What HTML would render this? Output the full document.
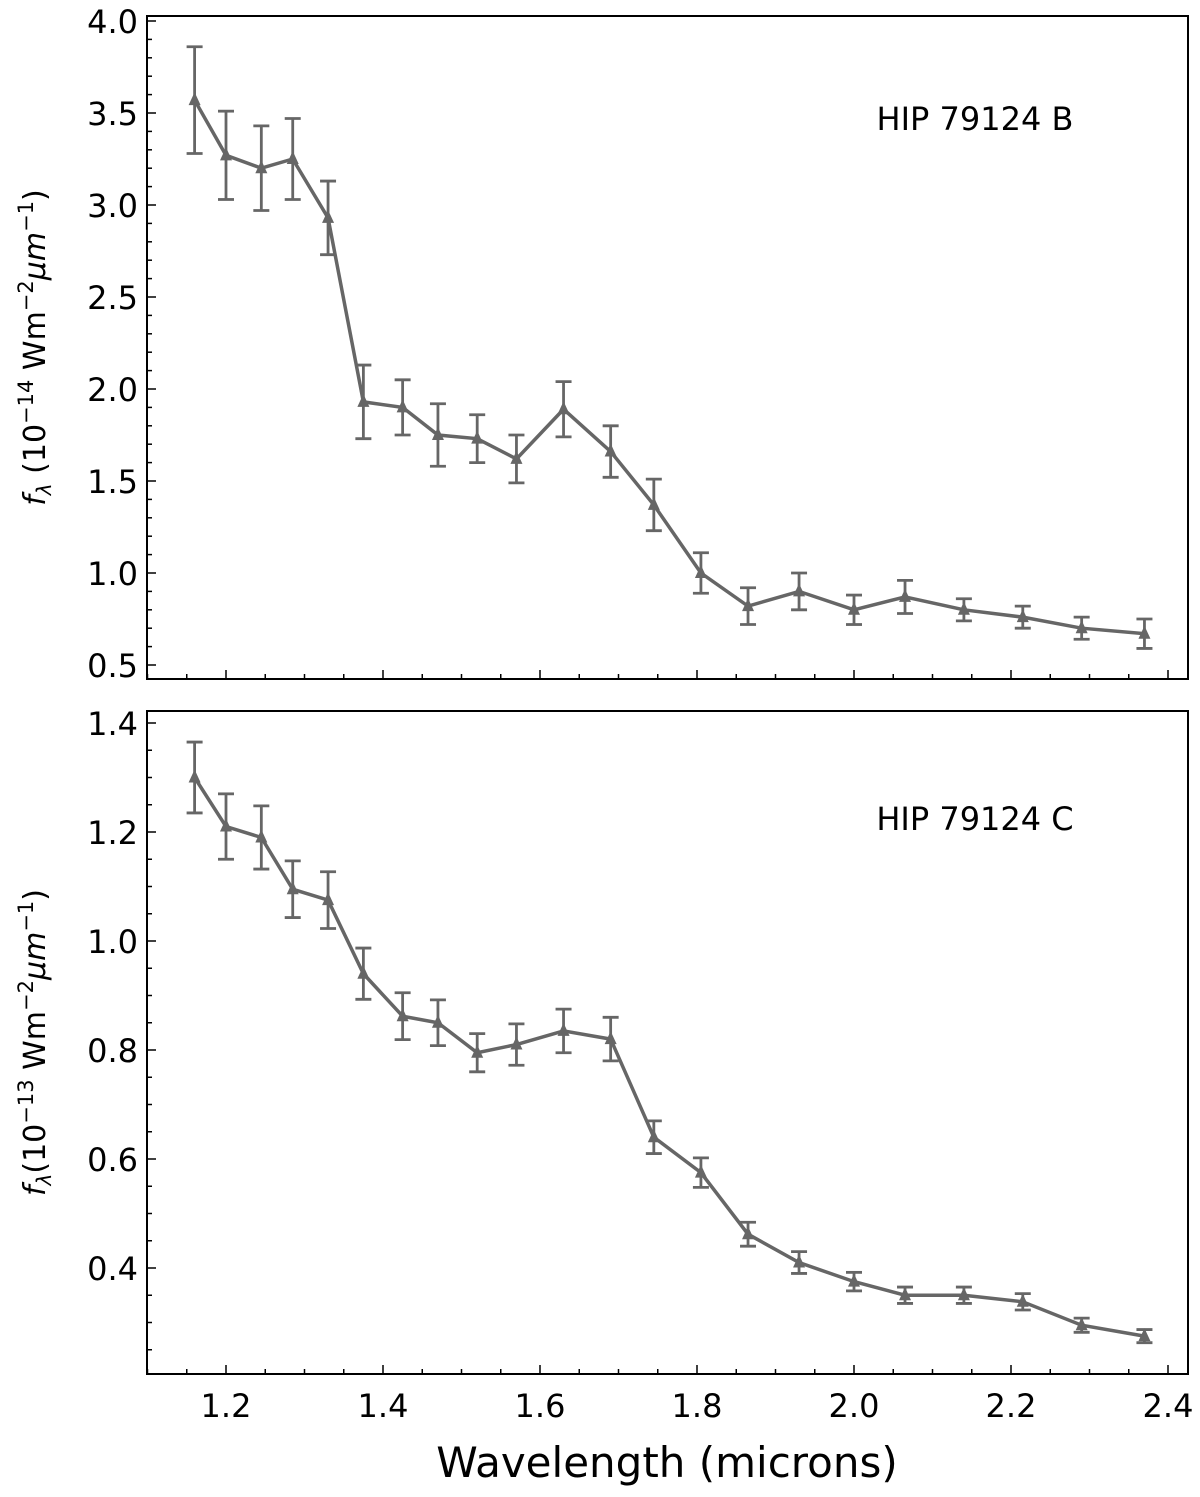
<!DOCTYPE html>
<html><head><meta charset="utf-8"><style>
body{margin:0;background:#fff;}
svg text{font-family:"DejaVu Sans","Liberation Sans",sans-serif;fill:#000;}
</style></head><body>
<svg id="chart" width="1200" height="1492" xmlns="http://www.w3.org/2000/svg"></svg>
<script>
const wavelengths=[1.16,1.20,1.245,1.285,1.33,1.375,1.425,1.47,1.52,1.57,1.63,1.69,1.745,1.805,1.865,1.93,2.0,2.065,2.14,2.215,2.29,2.37];
const fluxB=[3.57,3.27,3.20,3.25,2.93,1.93,1.90,1.75,1.73,1.62,1.89,1.66,1.37,1.00,0.82,0.90,0.80,0.87,0.80,0.76,0.70,0.67];
const errB=[0.29,0.24,0.23,0.22,0.20,0.20,0.15,0.17,0.13,0.13,0.15,0.14,0.14,0.11,0.10,0.10,0.08,0.09,0.06,0.06,0.06,0.08];
const fluxC=[1.30,1.21,1.19,1.095,1.075,0.94,0.862,0.85,0.795,0.81,0.835,0.82,0.64,0.575,0.462,0.41,0.375,0.35,0.35,0.338,0.295,0.275];
const errC=[0.065,0.06,0.058,0.052,0.052,0.047,0.043,0.042,0.035,0.038,0.04,0.04,0.03,0.027,0.022,0.02,0.017,0.015,0.015,0.015,0.013,0.012];
const xTicks=[1.2,1.4,1.6,1.8,2.0,2.2,2.4];
const yTicksB=[0.5,1.0,1.5,2.0,2.5,3.0,3.5,4.0];
const yTicksC=[0.4,0.6,0.8,1.0,1.2,1.4];

const svg=document.getElementById('chart');
const NS='http://www.w3.org/2000/svg';
function mk(tag,attrs,parent){const e=document.createElementNS(NS,tag);for(const k in attrs)e.setAttribute(k,attrs[k]);(parent||svg).appendChild(e);return e;}
const L=147,R=1188;
const xs=v=>226+(v-1.2)/0.2*157;

function panel(top,bottom,ysc,yTicks,minorStep,yMin,yMax,flux,err,label,name,ylab,labY,dec){
  const g=mk('g',{});
  
  
  mk('rect',{x:L,y:top,width:R-L,height:bottom-top,fill:'none',stroke:'#000','stroke-width':2},g);
  for(let v=1.1;v<=2.4501;v+=0.05){const x=xs(v);if(x<L||x>R)continue;
    const major=Math.abs(v*5-Math.round(v*5))<1e-6;
    mk('line',{x1:x,x2:x,y1:bottom,y2:bottom-(major?9:5),stroke:'#000','stroke-width':1.5},g);}
  for(let v=yMin;v<=yMax+1e-6;v+=minorStep){const y=ysc(v);if(y<top-1||y>bottom)continue;
    const major=yTicks.some(t=>Math.abs(t-v)<1e-6);
    mk('line',{x1:L,x2:L+(major?9:5),y1:y,y2:y,stroke:'#000','stroke-width':1.5},g);}
  yTicks.forEach(t=>{const tx=mk('text',{x:L-9,y:ysc(t)+12,'text-anchor':'end','font-size':32},g);tx.textContent=t.toFixed(1);
    
    });
  const pts=wavelengths.map((w,i)=>xs(w)+','+ysc(flux[i])).join(' ');
  const line=mk('polyline',{points:pts,fill:'none',stroke:'#666','stroke-width':3.5},g);
  
  
  wavelengths.forEach((w,i)=>{const x=xs(w),y1=ysc(flux[i]+err[i]),y2=ysc(flux[i]-err[i]),y=ysc(flux[i]);
    const eb=mk('g',{stroke:'#666','stroke-width':2.8},g);
    
    
    mk('line',{x1:x,x2:x,y1:y1,y2:y2},eb);
    mk('line',{x1:x-8,x2:x+8,y1:y1,y2:y1},eb);
    mk('line',{x1:x-8,x2:x+8,y1:y2,y2:y2},eb);
    const m=mk('polygon',{points:`${x},${y-8} ${x-6},${y+5} ${x+6},${y+5}`,fill:'#666'},g);
    
    });
  const t=mk('text',{x:975,y:labY,'text-anchor':'middle','font-size':32},g);t.textContent=label;
  
  
  const cy=(top+bottom)/2;
  const yl=mk('text',{transform:`translate(45,${cy}) rotate(-90)`,'text-anchor':'middle','font-size':30},g);
  yl.innerHTML=`<tspan font-style="italic">f</tspan><tspan font-size="20" font-style="italic" dy="6">λ</tspan><tspan dy="-6">${dec}(10</tspan><tspan font-size="21" dy="-12">−${ylab}</tspan><tspan dy="12"> Wm</tspan><tspan font-size="21" dy="-12">−2</tspan><tspan dy="12" font-style="italic">μm</tspan><tspan font-size="21" dy="-12">−1</tspan><tspan dy="12">)</tspan>`;
  
  
}
const ysB=v=>665-(v-0.5)/0.5*92;
const ysC=v=>723+(1.4-v)/0.2*109;
panel(16,679,ysB,yTicksB,0.1,0.5,4.0,fluxB,errB,'HIP 79124 B','panel-b',14,130,' ');
panel(711,1374,ysC,yTicksC,0.05,0.25,1.4,fluxC,errC,'HIP 79124 C','panel-c',13,830,'');
xTicks.forEach(t=>{const tx=mk('text',{x:xs(t),y:1417,'text-anchor':'middle','font-size':32});tx.textContent=t.toFixed(1);
  
  });
const xl=mk('text',{x:667,y:1477,'text-anchor':'middle','font-size':42});xl.textContent='Wavelength (microns)';


</script>
</body></html>
